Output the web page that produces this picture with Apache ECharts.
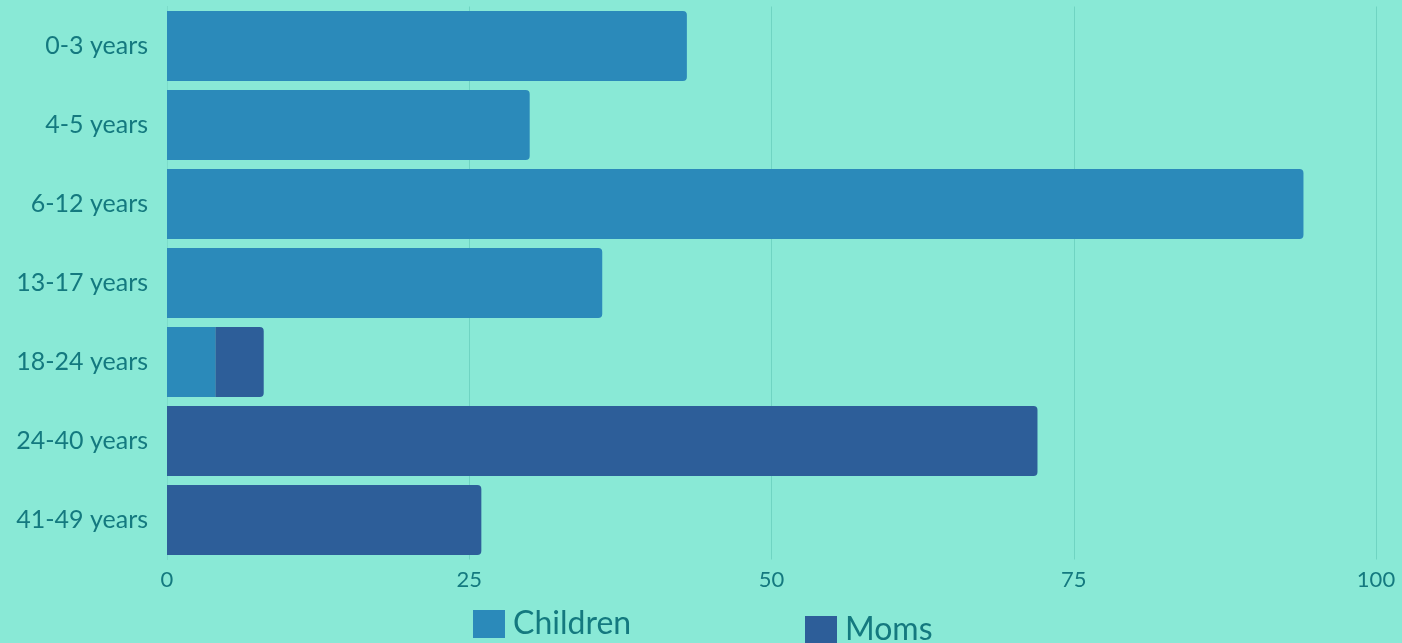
<!DOCTYPE html>
<html>
<head>
<meta charset="utf-8">
<script src="https://cdn.jsdelivr.net/npm/echarts@6/dist/echarts.min.js"></script>
<style>
    html, body { margin: 0; padding: 0; background: #89e9d6; }
    #main { width: 1402px; height: 643px; }
</style>
</head>
<body>
<div id="main"></div>
<script>
    // age groups, top to bottom
    var ageGroups = ['0-3 years', '4-5 years', '6-12 years', '13-17 years', '18-24 years', '24-40 years', '41-49 years'];
    var childrenValues = [43, 30, 94, 36, 4, '-', '-'];
    var momsValues = ['-', '-', '-', '-', 4, 72, 26];
    var xTicks = [0, 25, 50, 75, 100];

    var chartDom = document.getElementById('main');
    var myChart = echarts.init(chartDom);

    var textColor = '#14797f';
    var fontName = 'Lato';

    // children bar in the stacked row has no rounded end
    var childrenData = childrenValues.map(function (v, i) {
        var radius = (momsValues[i] !== '-') ? 0 : [0, 4, 4, 0];
        return { value: v, itemStyle: { borderRadius: radius } };
    });

    var legendText = {
        color: textColor,
        fontSize: 32,
        fontFamily: fontName,
        padding: [10, 0, 0, 3]
    };

    var option = {
        backgroundColor: '#89e9d6',
        animation: false,
        grid: {
            left: 167,
            right: 26,
            top: 6.5,
            bottom: 83.5
        },
        legend: [
            {
                data: ['Children'],
                left: 468,
                top: 603,
                itemWidth: 32,
                itemHeight: 28,
                icon: 'rect',
                textStyle: legendText
            },
            {
                data: ['Moms'],
                left: 800,
                top: 609,
                itemWidth: 32,
                itemHeight: 28,
                icon: 'rect',
                textStyle: legendText
            }
        ],
        xAxis: {
            type: 'value',
            min: xTicks[0],
            max: xTicks[xTicks.length - 1],
            interval: 25,
            axisLine: { show: false },
            axisTick: { show: false },
            splitLine: { show: true, lineStyle: { color: '#6fd4c2', width: 1 } },
            axisLabel: {
                color: textColor,
                fontSize: 22,
                fontFamily: fontName,
                margin: 9
            }
        },
        yAxis: {
            type: 'category',
            inverse: true,
            data: ageGroups,
            axisLine: { show: true, lineStyle: { color: '#7cdcca', width: 1 } },
            axisTick: { show: false },
            axisLabel: {
                color: textColor,
                fontSize: 25,
                fontFamily: fontName,
                margin: 19
            }
        },
        series: [
            {
                name: 'Children',
                type: 'bar',
                stack: 'total',
                barCategoryGap: '11.4%',
                itemStyle: { color: '#2b8aba' },
                data: childrenData
            },
            {
                name: 'Moms',
                type: 'bar',
                stack: 'total',
                barCategoryGap: '11.4%',
                itemStyle: { color: '#2d5e99', borderRadius: [0, 4, 4, 0] },
                data: momsValues
            }
        ]
    };

    myChart.setOption(option);
</script>
</body>
</html>
